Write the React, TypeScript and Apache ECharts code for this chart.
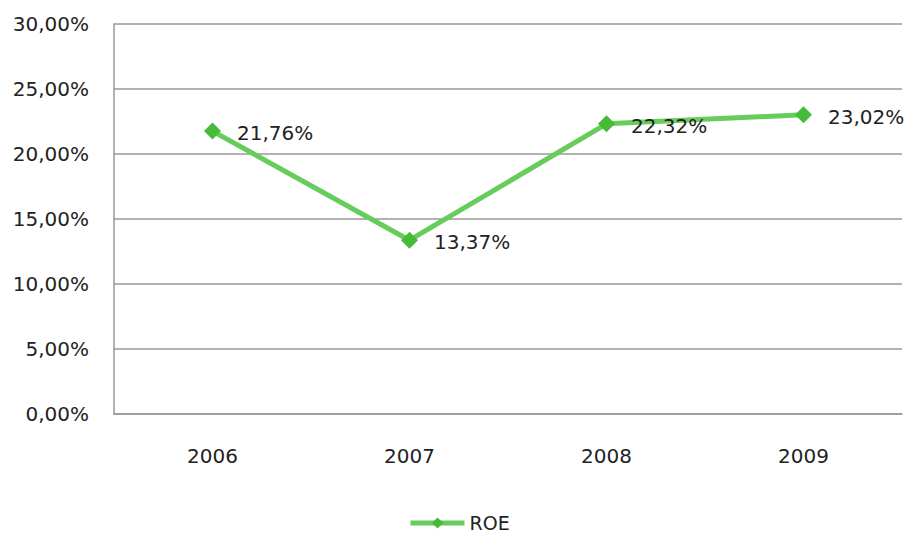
import React, { useEffect, useRef } from "react";
import * as echarts from "echarts";

const categories = ["2006", "2007", "2008", "2009"];
const roeValues = [21.76, 13.37, 22.32, 23.02];
const seriesName = "ROE";

const fmt = (v: number) => v.toFixed(2).replace(".", ",") + "%";

export default function App() {
  const ref = useRef<HTMLDivElement>(null);
  useEffect(() => {
    if (!ref.current) return;
    const chart = echarts.init(ref.current, undefined, { renderer: "svg" });
    const font = "DejaVu Sans";
    chart.setOption({
      animation: false,
      backgroundColor: "#ffffff",
      grid: { left: 114, right: 6, top: 24, bottom: 119, containLabel: false },
      legend: {
        top: 513,
        left: 408,
        padding: 0,
        itemWidth: 54,
        itemHeight: 14,
        lineStyle: { width: 5, color: "#66CC5C" },
        itemStyle: { color: "#45BB38" },
        textStyle: { fontFamily: font, fontSize: 19, color: "#222", lineHeight: 20 },
        data: [seriesName],
      },
      xAxis: {
        type: "category",
        data: categories,
        boundaryGap: true,
        axisLine: { show: true, lineStyle: { color: "#999", width: 1.5 } },
        axisTick: { show: false },
        axisLabel: { fontFamily: font, fontSize: 20, color: "#222", margin: 32 },
      },
      yAxis: {
        type: "value",
        min: 0,
        max: 30,
        interval: 5,
        axisLine: { show: true, lineStyle: { color: "#999", width: 1.5 } },
        axisTick: { show: false },
        splitLine: { show: true, lineStyle: { color: "#999", width: 1.5 } },
        axisLabel: {
          fontFamily: font,
          fontSize: 20,
          color: "#222",
          margin: 25,
          formatter: (v: number) => fmt(v),
        },
      },
      series: [
        {
          name: seriesName,
          type: "line",
          data: roeValues,
          symbol: "diamond",
          symbolSize: 17,
          itemStyle: { color: "#45BB38" },
          lineStyle: { color: "#66CC5C", width: 5 },
          label: {
            show: true,
            position: "right",
            distance: 16,
            offset: [0, 2],
            fontFamily: font,
            fontSize: 20,
            color: "#222",
            formatter: (p: any) => fmt(p.value),
          },
        },
      ],
    });
    return () => chart.dispose();
  }, []);
  return <div ref={ref} style={{ width: 908, height: 533, position: "absolute", left: 0, top: 0 }} />;
}
